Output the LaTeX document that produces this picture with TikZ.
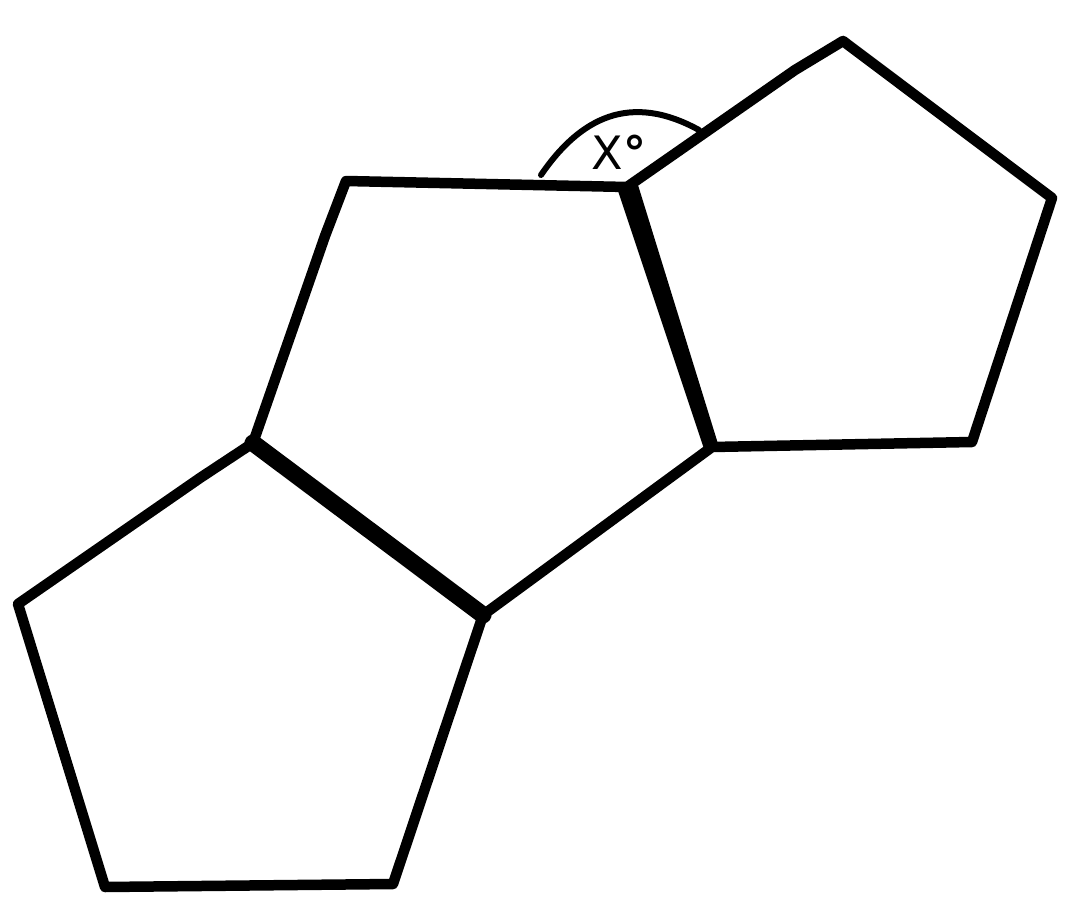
\documentclass[tikz,border=0pt]{standalone}
\usepackage{fontspec}
\setmainfont{DejaVu Sans}
\begin{document}
\begin{tikzpicture}[x=1pt,y=-1pt,
  edge/.style={line width=10.5pt,line join=round,line cap=round},
  thickedge/.style={line width=17pt,line join=round,line cap=round},
  arcline/.style={line width=6pt,line cap=round}]
\useasboundingbox (0,0) rectangle (1072,918);
% vertices
\coordinate (A) at (346,181);
\coordinate (Ak) at (325,236);
\coordinate (B) at (627,187);
\coordinate (C) at (712,447);
\coordinate (D) at (483,615);
\coordinate (E) at (253,443);
\coordinate (Fk) at (795,70);
\coordinate (G) at (843,41);
\coordinate (H) at (1052,198);
\coordinate (I) at (972,442);
\coordinate (Jk) at (200,478);
\coordinate (K) at (18,604);
\coordinate (L) at (105,887);
\coordinate (M) at (393,884);
% tapered bold edge B-C
\fill (617,188) -- (638,185) -- (719,447) -- (704,449) -- cycle;
% edges
\draw[edge] (E) -- (Ak) -- (A) -- (B) -- (Fk) -- (G) -- (H) -- (I) -- (C) -- (D) -- (M) -- (L) -- (K) -- (Jk) -- (E);
\draw[thickedge] (E) -- (D);
\draw[edge] (B) -- (C);
% angle arc
\coordinate (P) at (541,175);
\coordinate (Q) at (699,130);
\draw[arcline] (P) .. controls (580,118) and (630,92) .. (Q);
\node[font=\fontsize{46}{46}\selectfont,inner sep=0pt] (lbl) at (619,152) {X\textbf{°}};
\end{tikzpicture}
\end{document}
